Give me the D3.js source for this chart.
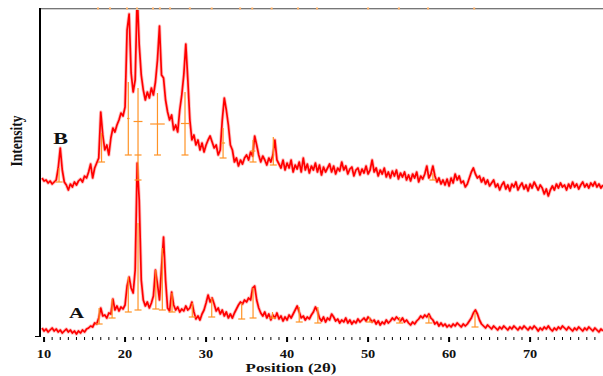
<!DOCTYPE html>
<html>
<head>
<meta charset="utf-8">
<script src="https://cdn.jsdelivr.net/npm/d3@7/dist/d3.min.js"></script>
<style>
  html, body { margin: 0; padding: 0; background: #fff; }
  svg { display: block; }
  text { font-family: "Liberation Serif", "Times New Roman", serif; font-weight: bold; fill: #111; }
</style>
</head>
<body>
<svg id="chart" width="603" height="376"></svg>
<script>
// XRD scan: start angle and step (degrees 2θ)
const scanStart = 9.75;
const scanStep = 0.25;

// Sample A intensities (counts), one value per step
const seriesA = [
  80,
  50,70,40,60,     80,50,70,40,     60,30,50,70,     40,60,30,50,     20,50,30,60,
  40,70,80,100,    90,130,120,180,  280,200,210,180, 230,220,370,260, 300,250,290,270,
  310,500,590,480, 430,660,1730,1360, 560,360,300,340, 280,330,400,660, 520,360,680,990,
  560,280,250,440, 310,260,290,240, 270,250,300,260, 280,340,240,170, 200,160,220,260,
  330,410,340,380, 320,250,280,220, 260,200,240,180, 220,180,230,270, 310,340,320,360,
  340,380,360,480, 500,360,280,230, 200,240,180,220, 160,210,180,230, 170,200,150,190,
  160,210,180,220, 260,300,240,180, 200,160,190,170, 210,240,290,250, 180,150,190,140,
  180,160,220,190, 150,170,130,160, 140,180,130,160, 120,150,130,170, 140,160,180,150,
  190,170,140,160, 120,150,110,140, 120,160,130,150, 180,160,190,170, 150,180,140,160,
  130,110,140,120, 150,170,200,180, 210,190,220,180, 160,120,140,100, 130,100,120,90,
  110,90,120,100,  130,110,90,120,  100,120,150,180, 230,260,220,160, 120,100,80,110,
  90,70,100,80,    60,90,70,100,    80,60,90,70,     100,80,60,90,    70,100,80,60,
  90,70,100,80,    50,80,60,90,     70,100,70,50,    80,60,90,70,     100,80,60,90,
  70,50,80,60,     90,70,50,80,     60,90,70,50,     80,60,40,70,
  50
];

// Sample B intensities (counts), one value per step
const seriesB = [
  380,
  350,360,330,350,     320,340,360,480,     680,460,340,310,     260,320,290,340,     310,350,370,340,
  400,380,440,520,     380,480,530,580,     1040,810,660,710,    610,780,880,840,     910,960,1030,1000,
  1090,1860,2020,1430, 1240,1360,2210,1710, 1410,1260,1160,1240, 1180,1280,1210,1340, 1560,1900,1410,1380,
  1160,1040,960,1010,  860,910,840,1060,    1210,1410,1720,1360, 960,760,810,710,     760,660,730,640,
  710,760,800,740,     680,710,610,660,     960,1180,1060,910,   710,660,540,580,     500,560,520,580,
  610,560,640,600,     800,710,610,540,     600,560,510,580,     540,610,760,560,     520,480,560,460,
  530,480,560,440,     510,470,540,440,     580,460,520,430,     500,460,530,440,     510,410,490,440,
  480,520,440,500,     420,480,450,540,     460,500,420,470,     490,400,460,480,     410,470,430,500,
  420,460,560,440,     480,400,460,420,     480,390,440,380,     450,400,460,370,     430,390,440,360,
  410,350,420,380,     440,340,400,370,     420,500,380,420,     500,400,340,380,     320,360,310,370,
  300,380,330,420,     360,400,330,350,     290,320,380,440,     480,420,380,400,     340,380,320,360,
  300,330,360,290,     320,260,310,340,     270,310,250,320,     290,340,260,300,     330,270,310,250,
  320,280,340,300,     260,310,280,220,     270,200,260,300,     260,320,280,330,     290,310,260,320,
  280,340,290,320,     270,310,340,290,     320,280,330,300,     340,290,320,280,
  310
];

// Vertical shift applied to pattern B in the stacked view (counts)
const offsetB = 1200;

// Identified peaks: [2θ, top, base, FWHM]
const peaksA = [
  [16.8, 280, 120, 0], [18.4, 370, 180, 0], [20.4, 590, 240, 0], [21.6, 1130, 260, 0],
  [23.8, 660, 270, 0], [24.6, 880, 260, 0], [25.8, 430, 240, 0], [28.3, 330, 190, 0],
  [30.7, 380, 190, 0], [34.4, 330, 170, 0], [35.8, 480, 180, 0], [38.2, 240, 180, 0],
  [41.5, 290, 140, 0], [43.8, 290, 130, 0], [50.2, 190, 140, 0], [53.9, 190, 130, 0],
  [57.5, 210, 130, 0], [63.2, 240, 90, 0]
];
const peaksB = [
  [11.85, 480, 340, 0], [17.1, 830, 540, 0], [20.4, 1340, 610, 0.3], [21.6, 1280, 610, 1.1],
  [21.6, 610, 360, 0], [24.0, 1230, 610, 1.8], [27.4, 1240, 610, 1.0], [32.1, 880, 580, 0.5],
  [35.8, 760, 540, 0.6], [38.3, 790, 510, 0], [58.0, 430, 360, 0]
];

// Reference pattern line positions (2θ)
const refLines = [16.66, 18.14, 20.24, 21.48, 23.45, 24.3, 25.55, 28.0, 30.7, 34.2,
                  35.7, 38.1, 41.35, 43.7, 50.0, 53.8, 57.4, 63.1];

const xTicks = [10, 20, 30, 40, 50, 60, 70];

const svg = d3.select("#chart");
const plot = { left: 40, right: 603, top: 8, bottom: 336 };

const x = d3.scaleLinear().domain([9.5, 79]).range([plot.left, plot.right]);
const y = d3.scaleLinear().domain([0, 3280]).range([plot.bottom, plot.top]);

svg.append("defs").append("clipPath").attr("id", "plotClip")
  .append("rect")
  .attr("x", plot.left + 1).attr("y", plot.top)
  .attr("width", plot.right - plot.left).attr("height", plot.bottom - plot.top + 4);

const angle = i => scanStart + i * scanStep;
const rowsA = seriesA.map((v, i) => [angle(i), v]);
const rowsB = seriesB.map((v, i) => [angle(i), v + offsetB]);

const line = d3.line().x(d => x(d[0])).y(d => y(d[1]));

const g = svg.append("g").attr("clip-path", "url(#plotClip)");

// Peak markers
function drawPeaks(list, shift) {
  const mg = g.append("g").attr("stroke", "#ff9326").attr("stroke-width", 1.2).attr("fill", "none");
  list.forEach(([t, top, base, w]) => {
    const px = x(t);
    mg.append("line").attr("x1", px).attr("x2", px)
      .attr("y1", y(top + shift)).attr("y2", y(base + shift));
    mg.append("line").attr("x1", px - 3.5).attr("x2", px + 3.5)
      .attr("y1", y(base + shift)).attr("y2", y(base + shift));
    if (w > 0) {
      const mid = y((top + base) / 2 + shift);
      mg.append("line").attr("x1", x(t - w / 2)).attr("x2", x(t + w / 2))
        .attr("y1", mid).attr("y2", mid);
    }
  });
}

// Pattern traces: soft halo under a solid red stroke
[rowsB, rowsA].forEach(rows => {
  g.append("path").datum(rows).attr("d", line)
    .attr("fill", "none").attr("stroke", "#ff6e6e").attr("stroke-opacity", 0.45)
    .attr("stroke-width", 3.4).attr("stroke-linejoin", "round");
  g.append("path").datum(rows).attr("d", line)
    .attr("fill", "none").attr("stroke", "#ff0000")
    .attr("stroke-width", 1.7).attr("stroke-linejoin", "round");
});
drawPeaks(peaksA, 0);
drawPeaks(peaksB, offsetB);

// Frame: grey top border with reference ticks, black left axis
svg.append("line").attr("x1", plot.left).attr("x2", plot.right)
  .attr("y1", plot.top + 1.5).attr("y2", plot.top + 1.5)
  .attr("stroke", "#d0d0d0").attr("stroke-width", 1);
svg.append("line").attr("x1", plot.left).attr("x2", plot.right)
  .attr("y1", plot.top + 0.5).attr("y2", plot.top + 0.5)
  .attr("stroke", "#777").attr("stroke-width", 1.2);
svg.append("g").selectAll("rect").data(refLines).join("rect")
  .attr("x", d => x(d) - 1).attr("y", plot.top - 0.5)
  .attr("width", 2).attr("height", 2)
  .attr("fill", "#ffb066");

svg.append("line").attr("x1", plot.left).attr("x2", plot.left)
  .attr("y1", plot.top).attr("y2", plot.bottom + 1)
  .attr("stroke", "#000").attr("stroke-width", 2);
svg.append("line").attr("x1", plot.left - 5).attr("x2", plot.left)
  .attr("y1", plot.bottom + 0.5).attr("y2", plot.bottom + 0.5)
  .attr("stroke", "#000").attr("stroke-width", 1);

// Bottom axis: ticks every degree, labels every ten
const minor = d3.range(10, 79, 1);
const ax = svg.append("g");
ax.selectAll("line").data(minor).join("line")
  .attr("x1", d => x(d)).attr("x2", d => x(d))
  .attr("y1", plot.bottom + 1)
  .attr("y2", d => plot.bottom + (d % 10 === 0 ? 6 : 4))
  .attr("stroke", "#000")
  .attr("stroke-width", d => d % 10 === 0 ? 2 : 1);

function stretchedText(parent, str, cx, cy, size, sx) {
  return parent.append("text")
    .attr("transform", `translate(${cx},${cy}) scale(${sx},1)`)
    .attr("text-anchor", "middle")
    .style("font-size", size + "px")
    .text(str);
}

xTicks.forEach(t => stretchedText(ax, String(t), x(t), 358, 12, 1.2));
stretchedText(svg, "Position (2θ)", 291, 372, 13.5, 1.25);

svg.append("text")
  .attr("transform", "translate(22,141) rotate(-90) scale(1,1.3)")
  .attr("text-anchor", "middle")
  .style("font-size", "13.5px")
  .text("Intensity");

stretchedText(svg, "B", 60.5, 144, 17, 1.3);
stretchedText(svg, "A", 76.5, 318, 15, 1.4);
</script>
</body>
</html>
